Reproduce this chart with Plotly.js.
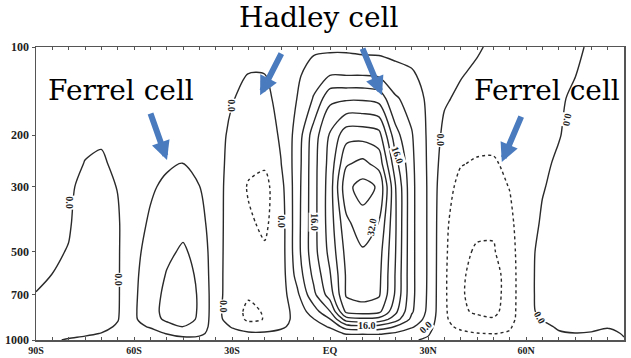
<!DOCTYPE html>
<html>
<head>
<meta charset="utf-8">
<script src="https://cdn.plot.ly/plotly-3.0.1.min.js"></script>
<style>
  html, body { margin: 0; padding: 0; background: #ffffff; }
  #chart { width: 631px; height: 358px; }
</style>
</head>
<body>
<div id="chart"></div>
<script>
// Zonal-mean meridional mass streamfunction (10^10 kg/s), latitude x pressure.
const latitudes = [-90, -85, -80, -75, -70, -65, -60, -55, -50, -45, -40, -35, -30, -25, -20, -15, -10, -5,
                   0, 5, 10, 15, 20, 25, 30, 35, 40, 45, 50, 55, 60, 65, 70, 75, 80, 85, 90];
const pressureLevels = [100, 125, 150, 200, 250, 300, 400, 500, 600, 700, 800, 850, 900, 950, 1000];

// One row per pressure level, one value per latitude (90S -> 90N).
const psi100  = [1, 1, 1.5, 1.5, 1.5, 1.5, 1.8, 1.8, 1.8, 1.8, 1.8, 1.5, 1.2, 0.4, 0.6, 2.5, 2.8, 3,
                 3, 3, 2.5, 2.5, 2.5, 2.5, 2.2, 1.8, 0.8, 0.5, -0.8, -1.2, -1.3, -0.8, -0.6, -0.5, 0.4, 0.5, 0.5];
const psi125  = [1, 1, 1.5, 1.5, 1.5, 1.5, 1.8, 2, 2, 2, 2, 1.5, 0.8, -0.05, -0.05, 2.2, 3.3, 6.3,
                 8, 8, 8, 7.5, 5.5, 4.5, 2.8, 1.3, 0.2, -0.8, -1.5, -1.6, -1.3, -0.8, -0.5, -0.05, 0.7, 0.7, 0.6];
const psi150  = [1, 1, 1.5, 1.3, 1.2, 1.5, 2, 2.2, 2.3, 2.4, 2.3, 1.5, 0.2, -1, -1.2, 1.5, 4.1, 8.3,
                 15, 15.4, 15.4, 14.5, 8.5, 6.5, 3.2, 0.5, -0.8, -1.8, -2.2, -2, -1.4, -0.8, -0.4, 0.5, 0.9, 0.9, 0.8];
const psi200  = [1, 1, 1.2, 0.7, 0.5, 1.3, 2.2, 2.6, 2.9, 3.1, 2.9, 1.4, -0.8, -2, -2.5, 0.6, 5.5, 14,
                 20.5, 26.5, 26.6, 25.5, 13.5, 8.3, 3.4, -1, -2.4, -3, -3.2, -2.8, -1.5, -0.7, -0.15, 0.9, 1.1, 1.1, 1];
const psi250  = [1, 1, 1, -0.1, -0.5, 0.8, 2.4, 3.1, 3.6, 4.05, 3.5, 1.4, -1.2, -3.2, -3.5, -0.1, 6, 14.5,
                 21.5, 31.5, 33.1, 30.5, 17.5, 8.8, 3.5, -2, -3.85, -4.3, -4.3, -3.4, -1.6, -0.5, 0.4, 1.1, 1.2, 1.2, 1.1];
const psi300  = [1, 0.8, 0.3, -0.5, -0.9, 0.1, 2.5, 3.6, 4.6, 5.2, 4.05, 1.4, -1.5, -4.3, -5.2, -1.3, 6.3, 14.5,
                 22, 35, 37.5, 35.5, 20.3, 9, 3.6, -2.8, -4.8, -5.2, -5, -3.9, -1.6, -0.2, 0.8, 1.3, 1.4, 1.3, 1.2];
const psi400  = [0.8, 0.5, 0.2, -1, -1.3, -0.4, 2.8, 4.4, 6, 7, 5.6, 1.5, -1.7, -3.5, -4.6, -2, 6.5, 14.5,
                 22, 31, 34.5, 31.8, 20.5, 9, 3.6, -3.2, -6.2, -7, -7.3, -4.8, -1.6, 0.4, 1.2, 1.5, 1.6, 1.4, 1.3];
const psi500  = [0.5, 0.3, -0.1, -1.3, -1.5, -0.4, 3, 5.3, 7.3, 8.5, 6.8, 1.5, -1.8, -3, -3.6, -2, 6.5, 14.5,
                 21.2, 29.3, 31.5, 29.7, 20.2, 9, 3.6, -3.3, -7, -8.5, -8.4, -5.3, -1.6, 1.3, 1.5, 1.7, 1.8, 1.5, 1.4];
const psi600  = [0.3, -0.02, -0.8, -1.5, -1.6, -0.4, 3.2, 6, 8.2, 9.5, 7.3, 1.5, -1.9, -3.2, -3, -2, 5.5, 13,
                 19.7, 28.5, 30, 29, 19.8, 9, 3.6, -3.4, -7.4, -9.3, -10.2, -5.5, -1.6, 1.5, 1.7, 1.8, 1.9, 1.6, 1.4];
const psi700  = [-0.05, -0.4, -1, -1.5, -1.6, -0.4, 3.3, 6.5, 8.8, 10, 7.6, 1.6, -2.1, -3.7, -3.1, -1.8, 3.2, 11,
                 18, 28.5, 29.5, 28.5, 19.5, 9, 3.5, -3.4, -7.5, -9.5, -10.3, -5.5, -1.6, 1.5, 1.8, 1.9, 1.9, 1.6, 1.4];
const psi800  = [-0.5, -0.7, -1.1, -1.4, -1.5, -0.35, 3.4, 6.8, 9, 10, 7.6, 1.6, -2.8, -4.6, -3.8, -1.8, 1.5, 6,
                 11.8, 25, 26, 25, 17, 8.5, 3.2, -3.3, -7.3, -8.6, -9.4, -5.4, -1.6, 1.2, 1.6, 1.8, 1.8, 1.5, 1.3];
const psi850  = [-0.6, -0.8, -1.1, -1.3, -1.3, -0.2, 3.3, 6.6, 8.6, 9.5, 7.5, 1.5, -2, -4.6, -3.9, -1.5, 1.2, 3.8,
                 7.8, 18, 19, 18.5, 14, 7, 2.5, -3.2, -6.5, -7, -7.5, -5.2, -1.6, 0.1, 1.2, 1.6, 1.6, 1.3, 1.2];
const psi900  = [-0.6, -0.8, -1, -1.1, -1, 0.4, 2.8, 4.4, 6.8, 8.1, 7, 1.4, -0.2, -2.5, -2.5, -0.5, 1, 2,
                 4.5, 10, 11, 10.5, 7.8, 4.5, 1.5, -3, -4.8, -5.5, -6, -4.4, -1.6, -0.8, 0.4, 1, 1, 0.4, 1];
const psi950  = [-0.5, -0.6, -0.5, -0.6, 0.1, 0.8, 2, 2.4, 4.2, 5.5, 5.5, 1.2, 0.8, 0.7, 0.7, 0.8, 0.8, 1,
                 2, 4.5, 4.5, 4.5, 3.5, 2, 0.3, -2, -3.2, -3.9, -4.1, -3.7, -1.5, -1, -0.3, -0.08, -0.3, -1.2, 0.35];
const psi1000 = [-0.3, -0.2, 0.15, 0.9, 1, 1, 1.2, 1.2, 1.4, 2.5, 1.8, 0.8, 0.6, 0.8, 0.8, 1, 0.5, 0.3,
                 0.4, 0.4, 0.5, 0.5, 0.3, 0.3, -0.4, -1, -1.5, -1, -1.2, -1.2, -1, -0.6, -0.5, -0.5, -0.6, -0.8, -0.3];

const streamfunction = [psi100, psi125, psi150, psi200, psi250, psi300, psi400, psi500,
                        psi600, psi700, psi800, psi850, psi900, psi950, psi1000];

// Axis ticks: minor ticks every 5 degrees, labels every 30 degrees.
const latTickVals = [-90, -85, -80, -75, -70, -65, -60, -55, -50, -45, -40, -35, -30, -25, -20, -15, -10, -5,
                     0, 5, 10, 15, 20, 25, 30, 35, 40, 45, 50, 55, 60, 65, 70, 75, 80, 85, 90];
const latTickText = ['90S', '', '', '', '', '', '60S', '', '', '', '', '', '30S', '', '', '', '', '',
                     'EQ', '', '', '', '', '', '30N', '', '', '', '', '', '60N', '', '', '', '', '', '90N'];
const pressureTicks = [100, 200, 300, 500, 700, 1000];

// Contour value labels: text, latitude, pressure, rotation.
const labelText  = ['0.0', '0.0', '0.0', '0.0', '0.0', '16.0', '16.0', '32.0', '16.0', '0.0', '0.0', '0.0', '0.0'];
const labelLat   = [-79.6, -65, -30, -14.7, -32.8, -4.6, 20.8, 12.9, 11.3, 29.1, 33.7, 72.6, 64.3];
const labelPres  = [341, 624, 158, 396, 771, 396, 234, 411, 889, 903, 207, 177, 835];
const labelAngle = [90, 90, 90, 90, 90, 90, 70, -80, 0, -45, 90, 100, 60];

// Arrows pointing at the circulation cells (tip in data space, tail as pixel offset).
const arrowLat     = [-49.9, -21.4, 15.9, 52.6];
const arrowPres    = [243, 146, 146, 247];
const arrowTailDx  = [-17, 22, -20, 20];
const arrowTailDy  = [-48, -43, -48, -47];

const lineColor = '#2a2a2a';

const positive = {
  type: 'contour', x: latitudes, y: pressureLevels, z: streamfunction,
  autocontour: false,
  contours: { start: 0, end: 36, size: 4, coloring: 'none', showlabels: false },
  line: { color: lineColor, width: 1.4, smoothing: 0.8 },
  showscale: false, hoverinfo: 'skip'
};
const negative = {
  type: 'contour', x: latitudes, y: pressureLevels, z: streamfunction,
  autocontour: false,
  contours: { start: -8, end: -4, size: 4, coloring: 'none', showlabels: false },
  line: { color: lineColor, width: 1.4, dash: 'dot', smoothing: 0.8 },
  showscale: false, hoverinfo: 'skip'
};

const annotations = [];
labelText.forEach((t, i) => {
  annotations.push({
    x: labelLat[i], y: Math.log10(labelPres[i]), xref: 'x', yref: 'y',
    text: t, showarrow: false, textangle: labelAngle[i],
    font: { family: 'Liberation Serif', size: 10, color: '#222', weight: 'bold' },
    bgcolor: '#ffffff', borderpad: 0
  });
});
arrowLat.forEach((lat, i) => {
  annotations.push({
    x: lat, y: Math.log10(arrowPres[i]), xref: 'x', yref: 'y',
    ax: arrowTailDx[i], ay: arrowTailDy[i], axref: 'pixel', ayref: 'pixel',
    text: '', showarrow: true, arrowhead: 2, arrowsize: 0.62, arrowwidth: 6,
    arrowcolor: '#4a7bbf', standoff: 0
  });
});
// Cell titles
const titleFont = { family: 'DejaVu Serif', size: 28, color: '#000' };
annotations.push({ xref: 'paper', yref: 'paper', x: 0.481, y: 1.099, text: 'Hadley cell',
                   showarrow: false, font: titleFont, xanchor: 'center', yanchor: 'middle' });
annotations.push({ xref: 'paper', yref: 'paper', x: 0.1446, y: 0.85, text: 'Ferrel cell',
                   showarrow: false, font: titleFont, xanchor: 'center', yanchor: 'middle' });
annotations.push({ xref: 'paper', yref: 'paper', x: 0.869, y: 0.85, text: 'Ferrel cell',
                   showarrow: false, font: titleFont, xanchor: 'center', yanchor: 'middle' });

const yFont = { family: 'Liberation Serif', size: 12, color: '#222', weight: 'bold' };
const xFont = { family: 'Liberation Serif', size: 10, color: '#222', weight: 'bold' };

const layout = {
  width: 631, height: 358,
  margin: { l: 36, r: 7, t: 47, b: 18, pad: 0 },
  paper_bgcolor: '#ffffff', plot_bgcolor: '#ffffff',
  showlegend: false,
  xaxis: {
    range: [-90, 90], tickmode: 'array', tickvals: latTickVals, ticktext: latTickText,
    ticks: 'inside', ticklen: 3, tickcolor: '#555', tickwidth: 1,
    showline: true, linecolor: '#555', linewidth: 1.5, mirror: 'ticks',
    showgrid: false, zeroline: false, tickfont: xFont, ticklabelstandoff: 0
  },
  yaxis: {
    type: 'log', range: [3, 2], tickmode: 'array', tickvals: pressureTicks,
    ticktext: pressureTicks.map(String),
    ticks: 'outside', ticklen: 3, tickcolor: '#555', tickwidth: 1,
    showline: true, linecolor: '#555', linewidth: 1.5, mirror: true,
    showgrid: false, zeroline: false, tickfont: yFont
  },
  annotations: annotations
};

Plotly.newPlot('chart', [positive, negative], layout, { staticPlot: true, displayModeBar: false });
</script>
</body>
</html>
